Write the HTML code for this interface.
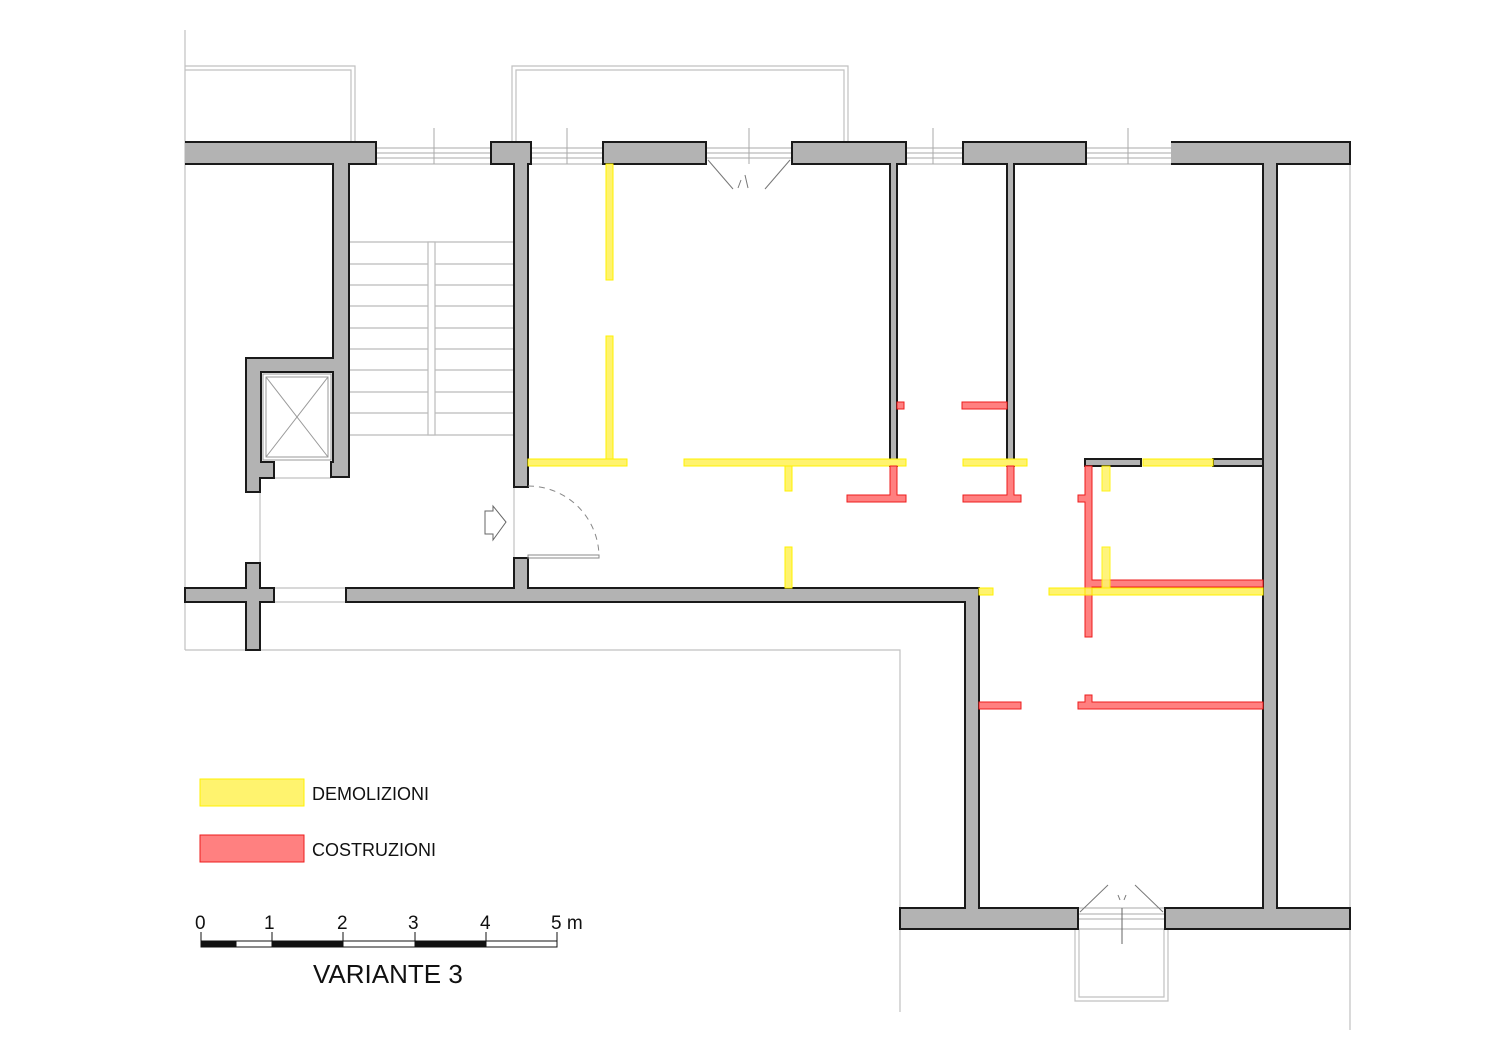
<!DOCTYPE html>
<html><head><meta charset="utf-8"><style>
html,body{margin:0;padding:0;background:#fff;}
svg{display:block;}
text{font-family:"Liberation Sans",Arial,sans-serif;fill:#111;}
</style></head><body>
<svg width="1500" height="1060" viewBox="0 0 1500 1060" xmlns="http://www.w3.org/2000/svg">
<rect width="1500" height="1060" fill="#fff"/>
<g stroke="#c0c0c0" stroke-width="1.2" fill="none">
<line x1="185" y1="30" x2="185" y2="650"/>
<polyline points="185,650 900,650 900,1012"/>
<line x1="1350" y1="164" x2="1350" y2="1030"/>
<polyline points="185,66 355,66 355,142"/>
<polyline points="185,70 351,70 351,142"/>
<polyline points="512,142 512,66 848,66 848,142"/>
<polyline points="516,142 516,70 844,70 844,142"/>
<polyline points="1075,929 1075,1001 1168,1001 1168,929"/>
<polyline points="1079,929 1079,997 1164,997 1164,929"/>
<g stroke="#aaa" stroke-width="1">
<line x1="376" y1="148" x2="491" y2="148"/><line x1="376" y1="153" x2="491" y2="153"/><line x1="376" y1="158" x2="491" y2="158"/><line x1="376" y1="164" x2="491" y2="164"/>
<line x1="434" y1="128" x2="434" y2="164"/>
<line x1="531" y1="148" x2="603" y2="148"/><line x1="531" y1="153" x2="603" y2="153"/><line x1="531" y1="158" x2="603" y2="158"/><line x1="531" y1="164" x2="603" y2="164"/>
<line x1="567" y1="128" x2="567" y2="164"/>
<line x1="706" y1="148" x2="792" y2="148"/><line x1="706" y1="153" x2="792" y2="153"/><line x1="706" y1="158" x2="792" y2="158"/>
<line x1="749" y1="128" x2="749" y2="164"/>
<line x1="906" y1="148" x2="963" y2="148"/><line x1="906" y1="153" x2="963" y2="153"/><line x1="906" y1="158" x2="963" y2="158"/><line x1="906" y1="164" x2="963" y2="164"/>
<line x1="933" y1="128" x2="933" y2="164"/>
<line x1="1086" y1="148" x2="1171" y2="148"/><line x1="1086" y1="153" x2="1171" y2="153"/><line x1="1086" y1="158" x2="1171" y2="158"/><line x1="1086" y1="164" x2="1171" y2="164"/>
<line x1="1128" y1="128" x2="1128" y2="164"/>
<line x1="1078" y1="908" x2="1165" y2="908"/><line x1="1078" y1="914" x2="1165" y2="914"/><line x1="1078" y1="919" x2="1165" y2="919"/><line x1="1078" y1="929" x2="1165" y2="929"/>
<line x1="1122" y1="908" x2="1122" y2="944" stroke="#666"/>
</g>
<g stroke="#777" stroke-width="1">
<polyline points="708,160 733,189"/><polyline points="790,160 765,189"/>
<line x1="741" y1="180" x2="738" y2="188"/><line x1="745" y1="175" x2="748" y2="188"/>
<polyline points="1080,912 1108,885"/><polyline points="1163,912 1135,885"/>
<line x1="1118" y1="895" x2="1120" y2="900"/><line x1="1126" y1="895" x2="1124" y2="900"/>
</g>
<line x1="260" y1="478" x2="260" y2="588"/>
<line x1="260" y1="588" x2="514" y2="588"/>
<line x1="274" y1="478" x2="331" y2="478"/>
<line x1="514" y1="487" x2="514" y2="558"/>
<line x1="260" y1="602" x2="346" y2="602"/>
</g>
<g stroke="#bbb" stroke-width="1.2" fill="none">
<line x1="350" y1="242" x2="514" y2="242"/><line x1="350" y1="264" x2="514" y2="264"/><line x1="350" y1="285" x2="514" y2="285"/><line x1="350" y1="306" x2="514" y2="306"/><line x1="350" y1="328" x2="514" y2="328"/><line x1="350" y1="349" x2="514" y2="349"/><line x1="350" y1="370" x2="514" y2="370"/><line x1="350" y1="392" x2="514" y2="392"/><line x1="350" y1="413" x2="514" y2="413"/><line x1="350" y1="435" x2="514" y2="435"/>
<rect x="428" y="242" width="7" height="193" fill="#fff"/>
</g>
<g stroke="#999" stroke-width="1" fill="none">
<rect x="263" y="374" width="68" height="86"/>
<rect x="266" y="377" width="62" height="80"/>
<line x1="266" y1="377" x2="328" y2="457"/><line x1="328" y1="377" x2="266" y2="457"/>
</g>
<g fill="#b3b3b3" stroke="#1a1a1a" stroke-width="2" stroke-linejoin="miter">
<path d="M185,142 L376,142 L376,164 L349,164 L349,477 L331,477 L331,462 L333,462 L333,372 L261,372 L261,462 L274,462 L274,478 L260,478 L260,492 L246,492 L246,358 L333,358 L333,164 L185,164"/>
<path d="M491,142 L531,142 L531,164 L528,164 L528,487 L514,487 L514,164 L491,164 Z"/>
<rect x="603" y="142" width="103" height="22"/>
<path d="M792,142 L906,142 L906,164 L897,164 L897,466 L890,466 L890,164 L792,164 Z"/>
<path d="M963,142 L1086,142 L1086,164 L1014,164 L1014,466 L1007,466 L1007,164 L963,164 Z"/>
<path d="M1171,142 L1350,142 L1350,164 L1277,164 L1277,908 L1350,908 L1350,929 L1165,929 L1165,908 L1263,908 L1263,164 L1171,164"/>
<path d="M346,588 L514,588 L514,558 L528,558 L528,588 L979,588 L979,908 L1078,908 L1078,929 L900,929 L900,908 L965,908 L965,602 L346,602 Z"/>
<path d="M246,563 L260,563 L260,588 L274,588 L274,602 L260,602 L260,650 L246,650 L246,602 L185,602 L185,588 L246,588 Z"/>
<rect x="1085" y="459" width="56" height="7"/>
<rect x="1213" y="459" width="50" height="7"/>
</g>
<g fill="none" stroke="#888" stroke-width="1">
<path d="M528,486 A71,71 0 0 1 599,557" stroke-dasharray="6,5"/>
<rect x="528" y="555" width="71" height="3"/>
<path d="M485,511 L493,511 L493,506 L506,522 L493,540 L493,534 L485,534 Z" stroke="#666"/>
</g>
<g fill="#fff36e" stroke="#fff200" stroke-width="1">
<rect x="606" y="164" width="7" height="116"/>
<rect x="606" y="336" width="7" height="126"/>
<rect x="528" y="459" width="99" height="7"/>
<rect x="684" y="459" width="222" height="7"/>
<rect x="963" y="459" width="64" height="7"/>
<rect x="785" y="466" width="7" height="25"/>
<rect x="785" y="547" width="7" height="41"/>
<rect x="1143" y="459" width="70" height="7"/>
<rect x="979" y="588" width="14" height="7"/>
<rect x="1049" y="588" width="214" height="7"/>
</g>
<g fill="#ff8080" stroke="#ee1c1c" stroke-width="1">
<rect x="897" y="402" width="7" height="7"/>
<rect x="962" y="402" width="45" height="7"/>
<path d="M890,466 L897,466 L897,495 L906,495 L906,502 L847,502 L847,495 L890,495 Z"/>
<path d="M1007,466 L1014,466 L1014,495 L1021,495 L1021,502 L963,502 L963,495 L1007,495 Z"/>
<path d="M1085,466 L1092,466 L1092,580 L1263,580 L1263,587 L1092,587 L1092,637 L1085,637 L1085,502 L1078,502 L1078,495 L1085,495 Z"/>
<rect x="979" y="702" width="42" height="7"/>
<path d="M1078,702 L1085,702 L1085,695 L1092,695 L1092,702 L1263,702 L1263,709 L1078,709 Z"/>
</g>
<g fill="#fff36e" stroke="#fff200" stroke-width="1" opacity="0.9">
<rect x="1102" y="466" width="8" height="25"/>
<rect x="1102" y="547" width="8" height="41"/>
<rect x="1085" y="588" width="7" height="7"/>
</g>
<rect x="200" y="779" width="104" height="27" fill="#fff36e" stroke="#fff200"/>
<rect x="200" y="835" width="104" height="27" fill="#ff8080" stroke="#ee1c1c"/>
<text x="312" y="800" font-size="18">DEMOLIZIONI</text>
<text x="312" y="856" font-size="18">COSTRUZIONI</text>
<g stroke="#111" stroke-width="1">
<rect x="201" y="941" width="35" height="6" fill="#111"/>
<rect x="236" y="941" width="36" height="6" fill="#fff"/>
<rect x="272" y="941" width="71" height="6" fill="#111"/>
<rect x="343" y="941" width="72" height="6" fill="#fff"/>
<rect x="415" y="941" width="71" height="6" fill="#111"/>
<rect x="486" y="941" width="71" height="6" fill="#fff"/>
<line x1="201" y1="932" x2="201" y2="947"/><line x1="272" y1="932" x2="272" y2="947"/><line x1="343" y1="932" x2="343" y2="947"/><line x1="415" y1="932" x2="415" y2="947"/><line x1="486" y1="932" x2="486" y2="947"/><line x1="557" y1="932" x2="557" y2="947"/>
</g>
<g font-size="19">
<text x="195" y="929">0</text><text x="264" y="929">1</text><text x="337" y="929">2</text><text x="408" y="929">3</text><text x="480" y="929">4</text><text x="551" y="929">5 m</text>
</g>
<text x="313" y="983" font-size="26">VARIANTE 3</text>
</svg>
</body></html>
